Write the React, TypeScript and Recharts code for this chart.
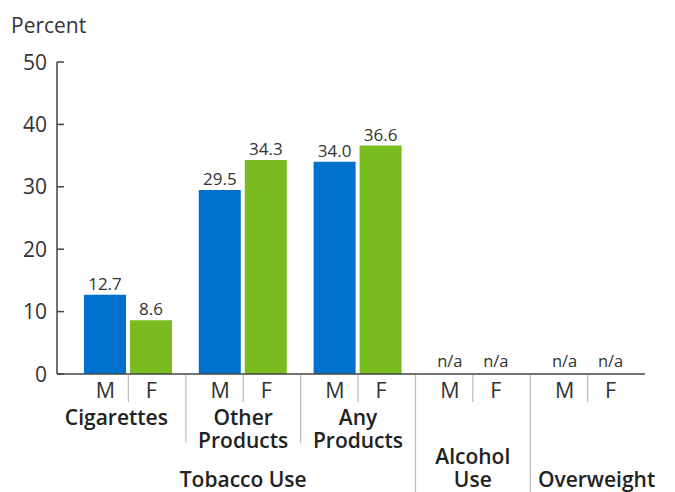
import React from "react";
import { Bar, BarChart, LabelList, XAxis, YAxis } from "recharts";

const categories = ["Cigarettes", "Other Products", "Any Products", "Alcohol Use", "Overweight"];
const groupLines = [["Cigarettes"], ["Other", "Products"], ["Any", "Products"], ["Alcohol", "Use"], ["Overweight"]];
const male = [12.7, 29.5, 34.0, null, null];
const female = [8.6, 34.3, 36.6, null, null];
const yTicks = [0, 10, 20, 30, 40, 50];
const sexLabels = ["M", "F"];
const tobaccoLabel = "Tobacco Use";
const tobaccoCount = 3;

const BLUE = "#0070CD";
const GREEN = "#78BC20";
const TEXT = "#333";
const FONT = "'Open Sans', Lato, sans-serif";
const LINE = 23;

const fmt = (v: number | null) => (v == null ? "" : v.toFixed(1));

const data = categories.map((name, i) => ({
  name,
  male: male[i] ?? 0,
  female: female[i] ?? 0,
  maleLabel: fmt(male[i]),
  femaleLabel: fmt(female[i]),
}));

function YTick({ x, y, payload }: any) {
  return (
    <g>
      <line x1={x} x2={x + 7} y1={y} y2={y} stroke="#444" strokeWidth={1.5} />
      <text x={x - 10} y={y} dy={7.5} textAnchor="end" fontSize={21} fill={TEXT} fontFamily={FONT}>
        {payload.value}
      </text>
    </g>
  );
}

function XTick({ x, y, payload, index }: any) {
  const lines = groupLines[index] ?? [payload.value];
  const inTobacco = index < tobaccoCount;
  const half = 57.5;
  const lastTobacco = index === tobaccoCount - 1;
  const isLast = index === categories.length - 1;
  // nudge the wide single-line labels away from the dividers
  const shift = index === 0 ? -12 : isLast ? 9 : 0;
  // top aligned for tobacco sub-groups, bottom aligned for the rest
  const firstBaseline = inTobacco ? y + 51 : y + 113 - (lines.length - 1) * LINE;
  return (
    <g fontFamily={FONT}>
      {male[index] == null && (
        <text x={x - 23} y={y - 7} textAnchor="middle" fontSize={16.5} fill={TEXT}>
          n/a
        </text>
      )}
      {female[index] == null && (
        <text x={x + 23} y={y - 7} textAnchor="middle" fontSize={16.5} fill={TEXT}>
          n/a
        </text>
      )}
      <line x1={x} x2={x} y1={y + 1} y2={y + 28} stroke="#bbb" strokeWidth={1.2} />
      {!isLast && (
        <line
          x1={x + half}
          x2={x + half}
          y1={y + 1}
          y2={inTobacco && !lastTobacco ? y + 69 : y + 118}
          stroke="#bbb"
          strokeWidth={1.2}
        />
      )}
      <text x={x - 23} y={y + 24} textAnchor="middle" fontSize={21.5} fill={TEXT}>
        {sexLabels[0]}
      </text>
      <text x={x + 23} y={y + 24} textAnchor="middle" fontSize={21.5} fill={TEXT}>
        {sexLabels[1]}
      </text>
      <text x={x + shift} y={firstBaseline} textAnchor="middle" fontSize={21} fontWeight={600} fill="#222">
        {lines.map((l: string, k: number) => (
          <tspan key={k} x={x + shift} dy={k === 0 ? 0 : LINE}>
            {l}
          </tspan>
        ))}
      </text>
      {index === 1 && (
        <text x={x} y={y + 113} textAnchor="middle" fontSize={21} fontWeight={600} fill="#222">
          {tobaccoLabel}
        </text>
      )}
    </g>
  );
}

export default function App() {
  return (
    <div style={{ position: "absolute", left: 0, top: 0, width: 675, height: 492, background: "#fff" }}>
      <div
        style={{
          position: "absolute",
          left: 11,
          top: 13,
          fontFamily: FONT,
          fontSize: 21,
          color: TEXT,
          lineHeight: "24px",
        }}
      >
        Percent
      </div>
      <BarChart
        width={675}
        height={492}
        data={data}
        margin={{ top: 62, right: 30, bottom: 0, left: 0 }}
        barSize={42}
        barGap={4}
      >
        <XAxis
          dataKey="name"
          height={118}
          padding={{ left: 14, right: 0 }}
          tickLine={false}
          tickSize={0}
          tickMargin={0}
          axisLine={{ stroke: "#444", strokeWidth: 1.5 }}
          interval={0}
          tick={<XTick />}
        />
        <YAxis
          width={57}
          domain={[0, 50]}
          ticks={yTicks}
          tickLine={false}
          tickSize={0}
          tickMargin={0}
          axisLine={{ stroke: "#444", strokeWidth: 1.5 }}
          tick={<YTick />}
        />
        <Bar dataKey="male" fill={BLUE} isAnimationActive={false}>
          <LabelList dataKey="maleLabel" position="top" offset={5} fill={TEXT} fontSize={17} fontFamily={FONT} />
        </Bar>
        <Bar dataKey="female" fill={GREEN} isAnimationActive={false}>
          <LabelList dataKey="femaleLabel" position="top" offset={5} fill={TEXT} fontSize={17} fontFamily={FONT} />
        </Bar>
      </BarChart>
    </div>
  );
}
